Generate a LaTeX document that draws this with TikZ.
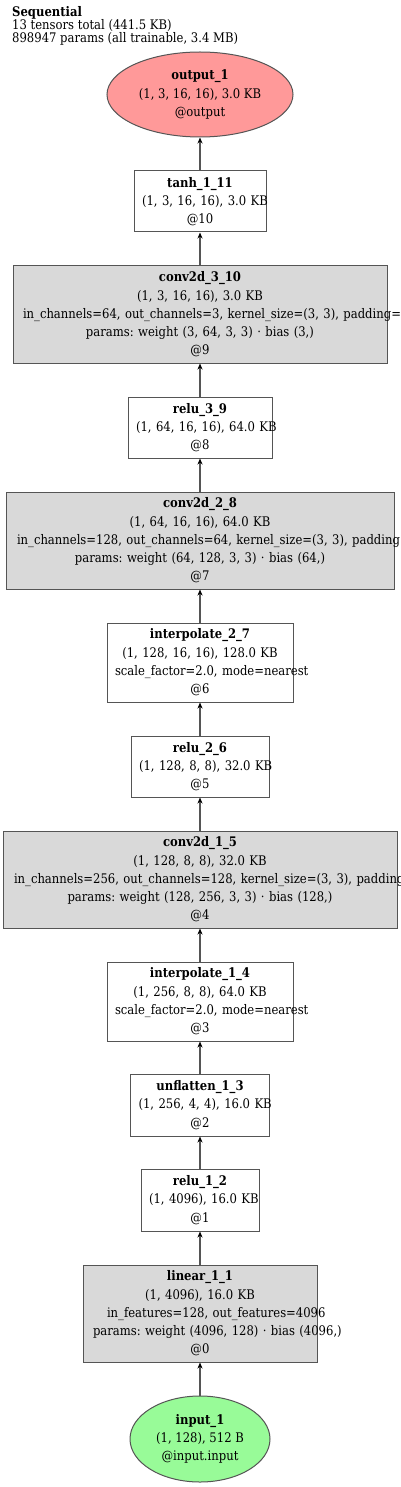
\documentclass[tikz,border=0pt]{standalone}
\usepackage{fontspec}
\setmainfont{DejaVu Serif}[FakeStretch=0.88]
\frenchspacing
\usepackage{xcolor}
\usepackage{tikz}
\usetikzlibrary{arrows.meta,shapes.geometric}
\definecolor{outred}{RGB}{255,153,153}
\definecolor{ingreen}{RGB}{152,251,152}
\definecolor{opgray}{RGB}{217,217,217}
\definecolor{edgegray}{RGB}{85,85,85}

\begin{document}
\begin{tikzpicture}[x=1pt,y=1pt,
every node/.style={font=\fontsize{13.2}{18.3}\selectfont},
layer/.style={draw=edgegray,line width=1pt,align=center,inner xsep=8pt,inner ysep=0pt},
op/.style={layer,fill=opgray},
io/.style={ellipse,draw=edgegray,line width=1pt,align=center,inner sep=0pt},
flow/.style={draw=edgegray,line width=1.2pt,-{Stealth[length=6pt,width=5pt,black]}}]
\useasboundingbox(0,0)rectangle(400,-1487);
\node[anchor=north west,align=left,inner sep=0pt,font=\fontsize{13.2}{13}\selectfont](title)at(12,-6)
{\textbf{Sequential}\\13 tensors total (441.5 KB)\\898947 params (all trainable, 3.4 MB)};
\node[io,fill=outred,minimum width=186pt,minimum height=85pt](out)at(200,-94.5)
{\textbf{output\_1}\\(1, 3, 16, 16), 3.0 KB\\@output};
\node[layer,text width=116pt,minimum height=61pt](tanh)at(200,-201.5)
{\textbf{tanh\_1\_11}\\\mbox{(1, 3, 16, 16), 3.0 KB}\\@10};
\node[op,text width=358pt,minimum height=97pt](convc)at(200,-314.5)
{\textbf{conv2d\_3\_10}\\\mbox{(1, 3, 16, 16), 3.0 KB}\\\mbox{\hspace*{2pt}in\_channels=64, out\_channels=3, kernel\_size=(3, 3), padding=}\\\mbox{params: weight (3, 64, 3, 3) · bias (3,)}\\@9};
\node[layer,text width=128pt,minimum height=61pt](reluc)at(200,-427.5)
{\textbf{relu\_3\_9}\\\mbox{(1, 64, 16, 16), 64.0 KB}\\@8};
\node[op,text width=372pt,minimum height=97pt](convb)at(200,-540.5)
{\textbf{conv2d\_2\_8}\\\mbox{(1, 64, 16, 16), 64.0 KB}\\\mbox{\hspace*{3pt}in\_channels=128, out\_channels=64, kernel\_size=(3, 3), padding=}\\\mbox{params: weight (64, 128, 3, 3) · bias (64,)}\\@7};
\node[layer,text width=170pt,minimum height=79pt](interpb)at(200,-662.5)
{\textbf{interpolate\_2\_7}\\\mbox{(1, 128, 16, 16), 128.0 KB}\\\mbox{scale\_factor=2.0, mode=nearest}\\@6};
\node[layer,text width=122pt,minimum height=61pt](relub)at(200,-766.5)
{\textbf{relu\_2\_6}\\\mbox{(1, 128, 8, 8), 32.0 KB}\\@5};
\node[op,text width=378pt,minimum height=97pt](conva)at(200,-879.5)
{\textbf{conv2d\_1\_5}\\\mbox{(1, 128, 8, 8), 32.0 KB}\\\mbox{\hspace*{3pt}in\_channels=256, out\_channels=128, kernel\_size=(3, 3), padding=}\\\mbox{params: weight (128, 256, 3, 3) · bias (128,)}\\@4};
\node[layer,text width=170pt,minimum height=79pt](interpa)at(200,-1001.5)
{\textbf{interpolate\_1\_4}\\\mbox{(1, 256, 8, 8), 64.0 KB}\\\mbox{scale\_factor=2.0, mode=nearest}\\@3};
\node[layer,text width=123pt,minimum height=62pt](unfl)at(200,-1105)
{\textbf{unflatten\_1\_3}\\\mbox{(1, 256, 4, 4), 16.0 KB}\\@2};
\node[layer,text width=102pt,minimum height=62pt](relua)at(200,-1200)
{\textbf{relu\_1\_2}\\\mbox{(1, 4096), 16.0 KB}\\@1};
\node[op,text width=218pt,minimum height=97pt](lin)at(200,-1313.5)
{\textbf{linear\_1\_1}\\\mbox{(1, 4096), 16.0 KB}\\\mbox{\hspace*{16pt}in\_features=128, out\_features=4096}\\\mbox{\hspace*{2pt}params: weight (4096, 128) · bias (4096,)}\\@0};
\node[io,fill=ingreen,minimum width=140pt,minimum height=86pt](inp)at(200,-1439)
{\textbf{input\_1}\\(1, 128), 512 B\\@input.input};
\foreach \a/\b in {inp/lin,lin/relua,relua/unfl,unfl/interpa,interpa/conva,conva/relub,
relub/interpb,interpb/convb,convb/reluc,reluc/convc,convc/tanh,tanh/out}
\draw[flow](\a)--(\b);
\end{tikzpicture}
\end{document}
